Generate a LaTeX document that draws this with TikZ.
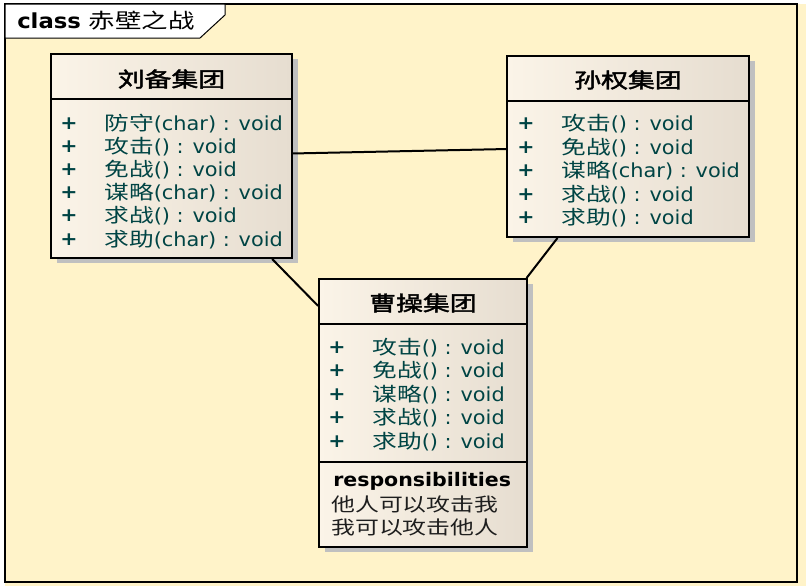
\documentclass[tikz,border=0pt]{standalone}
\usepackage{fontspec}
\setmainfont[FakeStretch=1.08,BoldFeatures={FakeStretch=1.1}]{DejaVu Sans}
\newfontfamily\cjk[FakeStretch=1.28]{Noto Sans CJK SC}
\newfontfamily\cjkbold[FakeStretch=1.3,FakeBold=2]{Noto Sans CJK SC}
\usetikzlibrary{shadows}

\definecolor{frameyellow}{HTML}{FFF3C9}
\definecolor{boxleft}{HTML}{FBF4E8}
\definecolor{boxright}{HTML}{E6DDD0}
\definecolor{boxshadow}{HTML}{C0C0C0}
\definecolor{optext}{HTML}{004444}
\definecolor{resptext}{HTML}{1E1E1E}

\begin{document}
\begin{tikzpicture}[x=0.75pt, y=-0.75pt,
  classbox/.style={draw, line width=1.5pt, inner sep=0pt, left color=boxleft, right color=boxright,
    drop shadow={shadow xshift=4.5pt, shadow yshift=-3.75pt, fill=boxshadow, opacity=1}},
  classname/.style={inner sep=0pt, font={\fontsize{15.5}{17}\cjkbold}},
  op/.style={anchor=west, inner sep=0pt, text=optext, font=\fontsize{14.5}{16}\selectfont},
  vis/.style={op, font=\bfseries\fontsize{14}{16}\selectfont},
  resp/.style={anchor=west, inner sep=0pt, text=resptext, font={\fontsize{14}{16}\cjk}}]
\useasboundingbox (0,0) rectangle (806,586);
\fill [white] (0,0) rectangle (806,586);

% frame
\fill [frameyellow] (5,4) rectangle (806,586);
\draw [line width=1pt] (5,4) rectangle (797,582);
\draw [line width=0.75pt, fill=white] (5,4) -- (225,4) -- (225,15) -- (200,38) -- (5,38) -- cycle;
\node [anchor=west, inner sep=0pt, font=\bfseries\fontsize{15.5}{17}\selectfont] (frame-name) at (17,21) {class {\cjk\mdseries 赤壁之战}};

% classes
\node [classbox, minimum width=180.75pt, minimum height=153pt] (liu) at (171.5,156) {};
\node [classbox, minimum width=181.5pt, minimum height=135.75pt] (sun) at (628,146.5) {};
\node [classbox, minimum width=156pt, minimum height=201pt] (cao) at (423,413) {};

\draw [line width=1.5pt] (liu.west |- 0,99) -- (liu.east |- 0,99);
\draw [line width=1.5pt] (sun.west |- 0,101) -- (sun.east |- 0,101);
\draw [line width=1.5pt] (cao.west |- 0,324) -- (cao.east |- 0,324);
\draw [line width=1.5pt] (cao.west |- 0,462) -- (cao.east |- 0,462);

\node [classname] (liu-name) at (171.5,79) {刘备集团};
\node [classname] (sun-name) at (628,80) {孙权集团};
\node [classname] (cao-name) at (423,303) {曹操集团};

% operations
\foreach \i/\y/\n/\a in {1/124/防守/char, 2/147/攻击/, 3/170/免战/, 4/193/谋略/char, 5/216/求战/, 6/240/求助/char} {
  \node [vis] (liu-vis\i) at (60,\y) {+};
  \node [op] (liu-op\i) at (104,\y) {{\cjk \n}(\a) : void};
}
\foreach \i/\y/\n/\a in {1/124/攻击/, 2/148/免战/, 3/171/谋略/char, 4/195/求战/, 5/218/求助/} {
  \node [vis] (sun-vis\i) at (517,\y) {+};
  \node [op] (sun-op\i) at (561,\y) {{\cjk \n}(\a) : void};
}
\foreach \i/\y/\n in {1/348/攻击, 2/371/免战, 3/395/谋略, 4/418/求战, 5/442/求助} {
  \node [vis] (cao-vis\i) at (328,\y) {+};
  \node [op] (cao-op\i) at (372,\y) {{\cjk \n}() : void};
}

% responsibilities
\node [anchor=west, inner sep=0pt, font=\bfseries\fontsize{14}{16}\selectfont] (cao-resp) at (333,481) {responsibilities};
\node [resp] (cao-resp1) at (331,504) {他人可以攻击我};
\node [resp] (cao-resp2) at (331,527) {我可以攻击他人};

% associations
\draw [line width=1.5pt] (liu) -- (sun);
\draw [line width=1.5pt] (liu) -- (cao);
\draw [line width=1.5pt] (sun) -- (cao);

\end{tikzpicture}
\end{document}
